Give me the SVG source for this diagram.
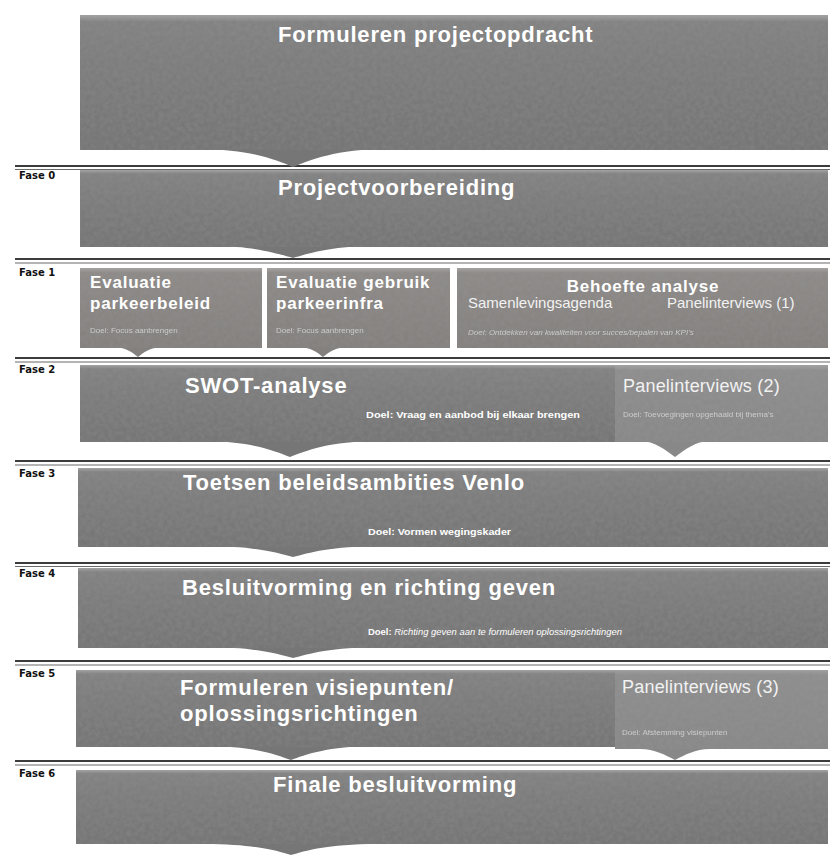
<svg xmlns="http://www.w3.org/2000/svg" width="830" height="855" viewBox="0 0 830 855">
  <defs>
    <linearGradient id="gMain" x1="0" y1="0" x2="0" y2="1">
      <stop offset="0" stop-color="#a4a4a4"/>
      <stop offset="0.05" stop-color="#828282"/>
      <stop offset="0.5" stop-color="#7a7a7a"/>
      <stop offset="1" stop-color="#757575"/>
    </linearGradient>
    <linearGradient id="gF1" x1="0" y1="0" x2="0" y2="1">
      <stop offset="0" stop-color="#a6a3a1"/>
      <stop offset="0.06" stop-color="#8d8a88"/>
      <stop offset="1" stop-color="#83807e"/>
    </linearGradient>
    <linearGradient id="gPanel" x1="0" y1="0" x2="0" y2="1">
      <stop offset="0" stop-color="#a0a0a0"/>
      <stop offset="0.06" stop-color="#8e8e8e"/>
      <stop offset="1" stop-color="#888888"/>
    </linearGradient>
    <filter id="tex" x="0" y="0" width="100%" height="100%">
      <feTurbulence type="fractalNoise" baseFrequency="0.22" numOctaves="2" seed="5" result="n"/>
      <feColorMatrix in="n" type="matrix" values="0 0 0 0 0.35  0 0 0 0 0.35  0 0 0 0 0.35  0 0 0 0.3 -0.06" result="nm"/>
      <feComposite in="nm" in2="SourceAlpha" operator="in" result="nc"/>
      <feMerge><feMergeNode in="SourceGraphic"/><feMergeNode in="nc"/></feMerge>
    </filter>
  </defs>
  <style>
    .box { fill: url(#gMain); }
    .f1 { fill: url(#gF1); }
    .pn { fill: url(#gPanel); }
    .ptr { fill: #767676; }
    .ptrF1 { fill: #83807e; }
    .ptrP { fill: #888888; }
    .title { font-family: "Liberation Sans", Arial, sans-serif; font-weight: bold; font-size: 22px; letter-spacing: 0.8px; fill: #ffffff; }
    .sub { font-family: "Liberation Sans", Arial, sans-serif; font-weight: bold; font-size: 17px; letter-spacing: 0.8px; fill: #ffffff; }
    .plain { font-family: "Liberation Sans", Arial, sans-serif; font-size: 15px; fill: #f2f2f2; }
    .panel { font-family: "Liberation Sans", Arial, sans-serif; font-size: 18px; letter-spacing: 0.2px; fill: #f2f2f2; }
    .doel { font-family: "Liberation Sans Narrow", "Liberation Sans", Arial, sans-serif; font-weight: bold; font-size: 9px; fill: #ffffff; }
    .doelF { font-family: "Liberation Sans", Arial, sans-serif; font-size: 8px; fill: #d8d8d8; opacity: 0.85; }
    .fase { font-family: "DejaVu Sans", sans-serif; font-weight: bold; font-size: 10px; fill: #111111; }
    .sep1 { stroke: #3c3c3c; stroke-width: 1.8; }
    .sep2 { stroke: #6a6a6a; stroke-width: 1.2; }
  </style>
  <rect x="0" y="0" width="830" height="855" fill="#ffffff"/>

  <g id="separators">
    <line class="sep1" x1="15" y1="166" x2="830" y2="166"/><line class="sep2" x1="15" y1="169.5" x2="830" y2="169.5"/>
    <line class="sep1" x1="15" y1="259" x2="830" y2="259"/><line class="sep2" x1="15" y1="263" x2="830" y2="263"/>
    <line class="sep1" x1="15" y1="358" x2="830" y2="358"/><line class="sep2" x1="15" y1="362" x2="830" y2="362"/>
    <line class="sep1" x1="15" y1="461" x2="830" y2="461"/><line class="sep2" x1="15" y1="465" x2="830" y2="465"/>
    <line class="sep1" x1="15" y1="563" x2="830" y2="563"/><line class="sep2" x1="15" y1="566.5" x2="830" y2="566.5"/>
    <line class="sep1" x1="15" y1="661" x2="830" y2="661"/><line class="sep2" x1="15" y1="665" x2="830" y2="665"/>
    <line class="sep1" x1="15" y1="761" x2="830" y2="761"/><line class="sep2" x1="15" y1="765" x2="830" y2="765"/>
  </g>

  <g id="phase-labels">
    <text class="fase" x="19" y="179">Fase 0</text>
    <text class="fase" x="19" y="276">Fase 1</text>
    <text class="fase" x="19" y="373">Fase 2</text>
    <text class="fase" x="19" y="477">Fase 3</text>
    <text class="fase" x="19" y="577">Fase 4</text>
    <text class="fase" x="19" y="677">Fase 5</text>
    <text class="fase" x="19" y="777">Fase 6</text>
  </g>

  <g id="connectors">
    <path class="ptr" d="M198,149 C250,149 276,160 293,167 C310,160 336,149 388,149 Z"/>
    <path class="ptr" d="M213,246 C255,246 279,254 293,258 C307,254 331,246 373,246 Z"/>
    <path class="ptrF1" d="M112,347 C126,347 133,353 138,357 C143,353 150,347 164,347 Z"/>
    <path class="ptrF1" d="M297,347 C311,347 318,353 323,357 C328,353 335,347 349,347 Z"/>
    <path class="ptr" d="M200,441 C252,441 274,451 290,457 C306,451 328,441 380,441 Z"/>
    <path class="ptrP" d="M640,441 C655,441 665,450 675,457 C685,450 695,441 710,441 Z"/>
    <path class="ptr" d="M205,546 C255,546 277,553 293,557 C309,553 331,546 381,546 Z"/>
    <path class="ptr" d="M205,647 C255,647 277,654 293,658 C309,654 331,647 381,647 Z"/>
    <path class="ptr" d="M205,746 C255,746 277,755 291,760 C305,755 327,746 377,746 Z"/>
    <path class="ptrP" d="M640,749 C655,749 665,755 675,760 C685,755 695,749 710,749 Z"/>
    <path class="ptr" d="M205,844 C255,844 277,851 291,855 C305,851 327,844 377,844 Z"/>
  </g>

  <g id="n-projectopdracht">
    <rect class="box" x="80" y="15" width="748" height="135" filter="url(#tex)"/>
    <text class="title" x="278" y="42">Formuleren projectopdracht</text>
  </g>

  <g id="n-fase0">
    <rect class="box" x="80" y="170" width="748" height="77" filter="url(#tex)"/>
    <text class="title" x="278" y="195">Projectvoorbereiding</text>
  </g>

  <g id="n-fase1-beleid">
    <rect class="f1" x="80" y="268" width="182" height="80" filter="url(#tex)"/>
    <text class="sub" x="90" y="288">Evaluatie</text>
    <text class="sub" x="90" y="309">parkeerbeleid</text>
    <text class="doelF" x="90" y="333">Doel: Focus aanbrengen</text>
  </g>

  <g id="n-fase1-infra">
    <rect class="f1" x="267" y="268" width="183" height="80" filter="url(#tex)"/>
    <text class="sub" x="276" y="288">Evaluatie gebruik</text>
    <text class="sub" x="276" y="309">parkeerinfra</text>
    <text class="doelF" x="276" y="333">Doel: Focus aanbrengen</text>
  </g>

  <g id="n-fase1-behoefte">
    <rect class="f1" x="457" y="268" width="371" height="80" filter="url(#tex)"/>
    <text class="sub" x="643" y="292" text-anchor="middle">Behoefte analyse</text>
    <text class="plain" x="468" y="308">Samenlevingsagenda</text>
    <text class="plain" x="667" y="308">Panelinterviews  (1)</text>
    <text class="doelF" x="468" y="335" font-style="italic">Doel: Ontdekken van kwaliteiten voor succes/bepalen van KPI's</text>
  </g>

  <g id="n-fase2-swot">
    <rect class="box" x="80" y="365" width="748" height="77" filter="url(#tex)"/>
    <text class="title" x="185" y="393">SWOT-analyse</text>
    <text class="doel" x="366" y="418" textLength="214" lengthAdjust="spacingAndGlyphs">Doel: Vraag en aanbod bij elkaar brengen</text>
  </g>

  <g id="n-fase2-panel">
    <rect class="pn" x="615" y="366" width="213" height="76" filter="url(#tex)"/>
    <text class="panel" x="623" y="392">Panelinterviews (2)</text>
    <text class="doelF" x="623" y="417">Doel: Toevoegingen opgehaald bij thema's</text>
  </g>

  <g id="n-fase3">
    <rect class="box" x="78" y="468" width="750" height="79" filter="url(#tex)"/>
    <text class="title" x="183" y="490">Toetsen beleidsambities Venlo</text>
    <text class="doel" x="368" y="535" textLength="143" lengthAdjust="spacingAndGlyphs">Doel: Vormen wegingskader</text>
  </g>

  <g id="n-fase4">
    <rect class="box" x="78" y="568" width="750" height="80" filter="url(#tex)"/>
    <text class="title" x="182" y="595">Besluitvorming en richting geven</text>
    <text class="doel" x="368" y="635" textLength="254" lengthAdjust="spacingAndGlyphs">Doel: <tspan font-style="italic" font-weight="normal">Richting geven aan te formuleren oplossingsrichtingen</tspan></text>
  </g>

  <g id="n-fase5">
    <rect class="box" x="76" y="670" width="752" height="77" filter="url(#tex)"/>
    <text class="title" x="180" y="695">Formuleren visiepunten/</text>
    <text class="title" x="180" y="721">oplossingsrichtingen</text>
  </g>

  <g id="n-fase5-panel">
    <rect class="pn" x="615" y="670" width="213" height="79" filter="url(#tex)"/>
    <text class="panel" x="622" y="693">Panelinterviews (3)</text>
    <text class="doelF" x="622" y="735">Doel: Afstemming visiepunten</text>
  </g>

  <g id="n-fase6">
    <rect class="box" x="76" y="770" width="752" height="74" filter="url(#tex)"/>
    <text class="title" x="273" y="792">Finale besluitvorming</text>
  </g>
</svg>
